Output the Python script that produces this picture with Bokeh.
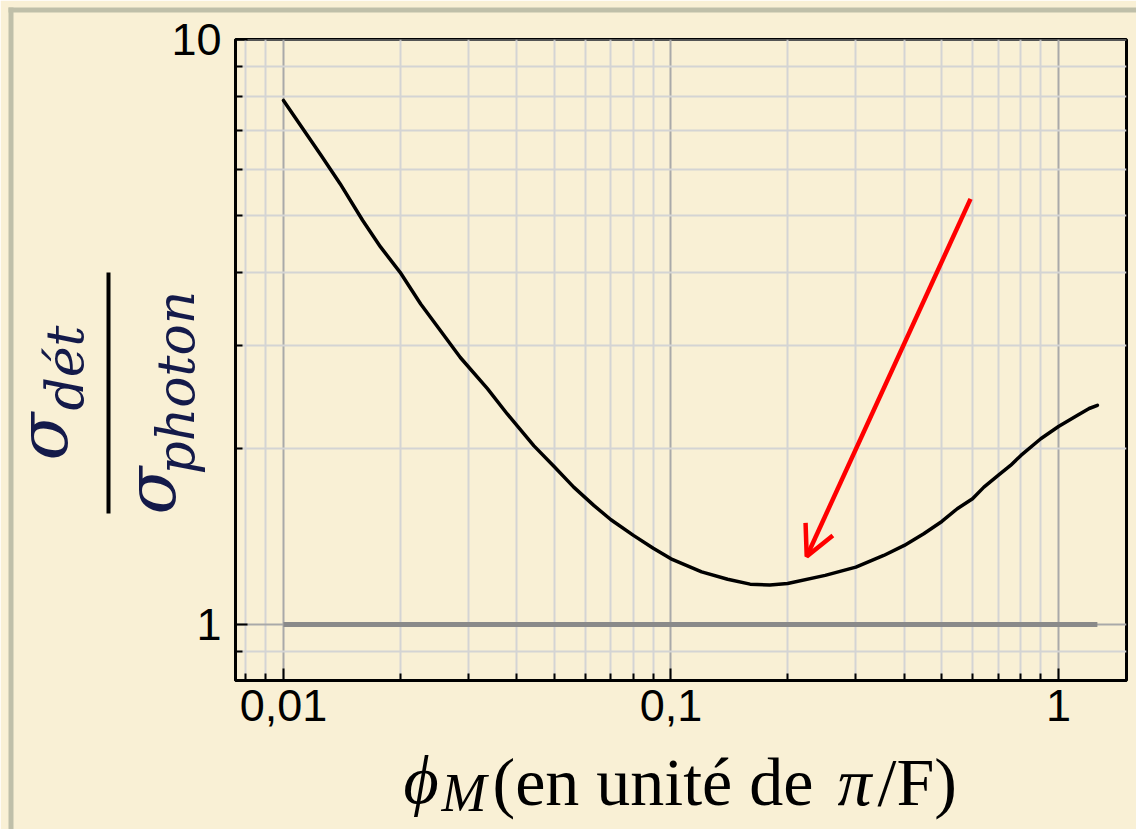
import math
from bokeh.plotting import figure
from bokeh.models import FixedTicker, Label, BoxAnnotation, Arrow, OpenHead, Range1d
from bokeh.embed import file_html
from bokeh.resources import INLINE

# phase modulation amplitude (units of pi/F) and noise ratio sigma_det / sigma_photon
phi_m = [0.01, 0.0125, 0.014, 0.016, 0.0178, 0.02, 0.0226, 0.0254, 0.0286, 0.0336,
         0.0378, 0.0443, 0.05, 0.0561, 0.0632, 0.07, 0.08, 0.09, 0.1, 0.12, 0.14,
         0.16, 0.18, 0.2, 0.25, 0.3, 0.354, 0.4, 0.449, 0.5, 0.548, 0.6, 0.642,
         0.7, 0.752, 0.8, 0.9, 1.0, 1.117, 1.2, 1.26]
sigma_ratio = [7.87, 6.34, 5.67, 4.91, 4.42, 4.00, 3.53, 3.18, 2.86, 2.53,
               2.29, 2.02, 1.86, 1.717, 1.598, 1.51, 1.42, 1.35, 1.295, 1.23, 1.195,
               1.172, 1.168, 1.175, 1.213, 1.253, 1.312, 1.365, 1.429, 1.50, 1.577, 1.64, 1.717,
               1.80, 1.870, 1.945, 2.077, 2.18, 2.277, 2.34, 2.37]

# photon-noise limit
limit_x = [0.01, 1.26]
limit_y = [1.0, 1.0]

# arrow pointing at the optimum
arrow_start = (0.593, 5.34)
arrow_end = (0.224, 1.307)

x_tick_values = [0.01, 0.1, 1]
x_tick_labels = ["0,01", "0,1", "1"]
x_minor_values = [0.008, 0.009, 0.02, 0.03, 0.04, 0.05, 0.06, 0.07, 0.08, 0.09,
                  0.2, 0.3, 0.4, 0.5, 0.6, 0.7, 0.8, 0.9]
y_tick_values = [1, 10]
y_tick_labels = ["1", "10"]
y_minor_values = [0.8, 0.9, 2, 3, 4, 5, 6, 7, 8, 9]

BG = "#f9f0d5"
W, H = 1136, 829

# ---- main log-log chart -------------------------------------------------
p = figure(width=W, height=H, x_axis_type="log", y_axis_type="log",
           x_range=Range1d(0.00752, 1.498), y_range=Range1d(0.802, 10.002),
           output_backend="svg", toolbar_location=None,
           min_border_left=235, min_border_right=10,
           min_border_top=39, min_border_bottom=149,
           background_fill_color=BG, border_fill_color=BG)

p.outline_line_color = "black"
p.outline_line_width = 3

p.xaxis.ticker = FixedTicker(ticks=x_tick_values, minor_ticks=x_minor_values)
p.yaxis.ticker = FixedTicker(ticks=y_tick_values, minor_ticks=y_minor_values)
p.xaxis.major_label_overrides = dict(zip(x_tick_values, x_tick_labels))
p.yaxis.major_label_overrides = dict(zip(y_tick_values, y_tick_labels))

for ax in (p.xaxis, p.yaxis):
    ax.axis_line_color = "black"
    ax.axis_line_width = 3
    ax.major_tick_in = 12
    ax.major_tick_out = 0
    ax.minor_tick_in = 7
    ax.minor_tick_out = 0
    ax.major_tick_line_color = "black"
    ax.minor_tick_line_color = "black"
    ax.major_tick_line_width = 2
    ax.minor_tick_line_width = 2
    ax.major_label_text_font = "Liberation Sans"
    ax.major_label_text_font_size = "45px"
    ax.major_label_text_color = "black"
p.xaxis.major_label_standoff = 9
p.yaxis.major_label_standoff = 14

for g in (p.xgrid, p.ygrid):
    g.grid_line_color = "#a9a9a9"
    g.grid_line_width = 2
    g.minor_grid_line_color = "#d4d4d4"
    g.minor_grid_line_width = 2

p.line(limit_x, limit_y, line_color="#8a8a8a", line_width=5)
p.line(phi_m, sigma_ratio, line_color="black", line_width=3.5,
       line_join="round", line_cap="round")

p.add_layout(Arrow(end=OpenHead(line_color="red", line_width=4.5, size=30),
                   x_start=arrow_start[0], y_start=arrow_start[1],
                   x_end=arrow_end[0], y_end=arrow_end[1],
                   line_color="red", line_width=4.5))

# ---- transparent layer on top, in page pixels, for titles and slide frame ----
ov = figure(width=W, height=H, x_range=Range1d(0, W), y_range=Range1d(H, 0),
            x_axis_location=None, y_axis_location=None,
            output_backend="svg", toolbar_location=None, min_border=0,
            background_fill_alpha=0, border_fill_alpha=0, outline_line_color=None)
ov.xgrid.visible = False
ov.ygrid.visible = False
ov.margin = (-H, 0, 0, 0)

# Bokeh's alphabetic anchor sits about 0.42 em below the glyph baseline
SHIFT = 0.42


def box(l, t, r, b, color):
    ov.add_layout(BoxAnnotation(left=l, right=r, top=t, bottom=b,
                                fill_color=color, fill_alpha=1, line_alpha=0))


def label(x, y, txt, font, size, style="normal", rotated=False, color="black"):
    if rotated:
        x -= SHIFT * size
    else:
        y -= SHIFT * size
    ov.add_layout(Label(x=x, y=y, text=txt, text_font=font,
                        text_font_size=f"{size}px", text_font_style=style,
                        angle=math.pi / 2 if rotated else 0.0, text_color=color,
                        text_align="left", text_baseline="alphabetic"))


# slide frame
box(8, 7, 13, H, "#bfbfa9")
box(8, 7, W, 12, "#bfbfa9")

# y-axis title: sigma_det / sigma_photon, set as a rotated fraction
YL = "#141a4a"
label(72, 460, "σ", "DejaVu Serif", 70, "italic", True, YL)
label(86, 410, "dét", "DejaVu Serif", 52, "italic", True, YL)
box(106, 272, 110, 513, "black")
label(180, 514, "σ", "DejaVu Serif", 70, "italic", True, YL)
label(197, 474, "photon", "DejaVu Serif", 52, "italic", True, YL)

# x-axis title
label(403, 808, "ϕ", "Liberation Serif", 68, "italic")
label(441, 815, "M", "Liberation Serif", 54, "italic")
label(492, 810, "(en unité de", "Liberation Serif", 68)
label(837, 810, "π", "Liberation Serif", 68, "italic")
label(877, 810, "/F)", "Liberation Serif", 68)

# two independent roots: the chart, then the transparent title layer over it
open("out.html", "w").write(file_html([p, ov], INLINE))
